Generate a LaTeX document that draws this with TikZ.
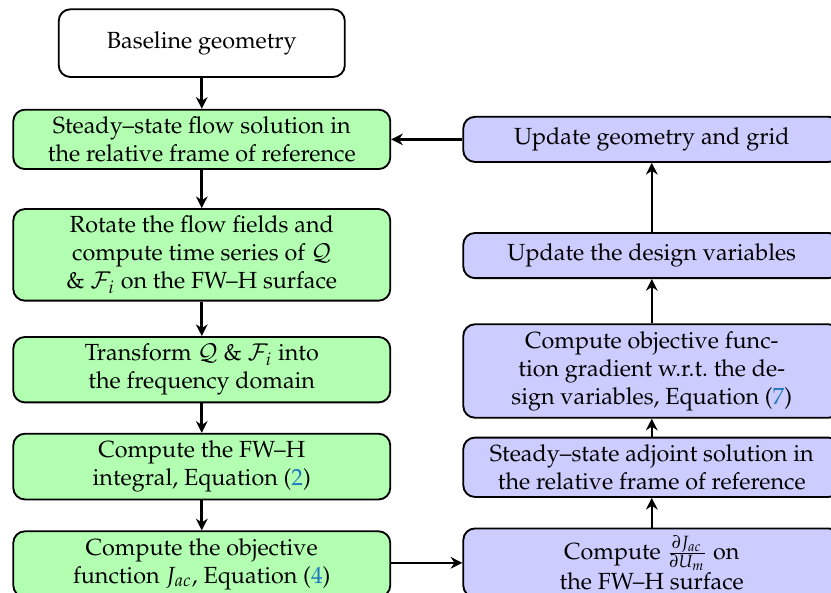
\documentclass[tikz,border=0pt]{standalone}
\usepackage[T1]{fontenc}
\usepackage{mathpazo}
\usetikzlibrary{arrows.meta}
\definecolor{eqblue}{rgb}{0.12,0.47,0.75}
\newcommand{\eqref}[1]{(\textcolor{eqblue}{#1})}

\begin{document}
\begin{tikzpicture}[
    box/.style={draw, thick, rounded corners=5pt, align=center,
        minimum width=5.68cm, inner ysep=3pt},
    flowbox/.style={box, fill=green!30},
    adjbox/.style={box, fill=blue!20},
    arr/.style={-{Stealth[length=5pt,width=5pt]}, line width=1.1pt}
]

    % 1. Page size (the right column runs past the edge)
    \useasboundingbox (0,0) rectangle (12.52,-8.93);

    % 2. Left column: flow and acoustics
    \node[box, minimum width=4.31cm, minimum height=1.02cm] (base) at (3.04,-0.65) {Baseline geometry};
    \node[flowbox] (flow) at (3.04,-2.10) {Steady--state flow solution in\\the relative frame of reference};
    \node[flowbox] (rot) at (3.04,-3.84) {Rotate the flow fields and\\compute time series of $\mathcal{Q}$\\\& $\mathcal{F}_i$ on the FW--H surface};
    \node[flowbox] (fft) at (3.04,-5.57) {Transform $\mathcal{Q}$ \& $\mathcal{F}_i$ into\\the frequency domain};
    \node[flowbox, minimum height=0.99cm] (fwh) at (3.04,-7.03) {Compute the FW--H\\integral, Equation \eqref{2}};
    \node[flowbox, minimum height=0.99cm] (obj) at (3.04,-8.50) {Compute the objective\\function $J_{ac}$, Equation \eqref{4}};

    % 3. Right column: adjoint and update
    \node[adjbox, minimum height=0.68cm] (geom) at (9.82,-2.10) {Update geometry and grid};
    \node[adjbox, minimum height=0.68cm] (dv) at (9.82,-3.85) {Update the design variables};
    \node[adjbox] (grad) at (9.82,-5.59) {Compute objective func-\\tion gradient w.r.t.\ the de-\\sign variables, Equation \eqref{7}};
    \node[adjbox] (adj) at (9.82,-7.04) {Steady--state adjoint solution in\\the relative frame of reference};
    \node[adjbox, minimum height=0.99cm] (djdu) at (9.82,-8.48) {Compute $\frac{\partial J_{ac}}{\partial U_m}$ on\\the FW--H surface};

    % 4. Arrows down the left column
    \draw[arr] (base) -- (flow);
    \draw[arr] (flow) -- (rot);
    \draw[arr] (rot) -- (fft);
    \draw[arr] (fft) -- (fwh);
    \draw[arr] (fwh) -- (obj);

    % 5. Across to the adjoint and back up
    \draw[arr] (obj.east |- djdu.west) -- (djdu.west);
    \draw[arr] (djdu) -- (adj);
    \draw[arr] (adj) -- (grad);
    \draw[arr] (grad) -- (dv);
    \draw[arr] (dv) -- (geom);
    \draw[arr] (geom) -- (flow);

\end{tikzpicture}
\end{document}
